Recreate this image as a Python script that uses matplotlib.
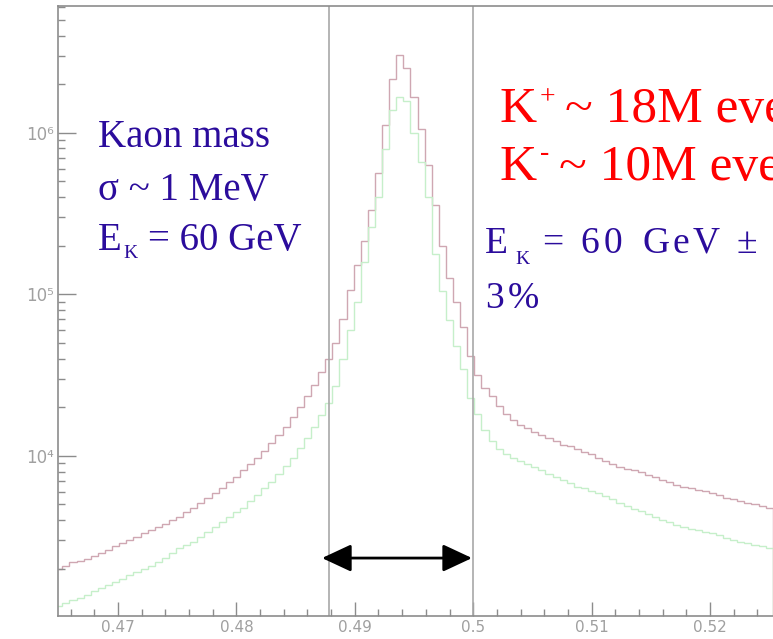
import numpy as np
import matplotlib
matplotlib.use("Agg")
import matplotlib.pyplot as plt
from matplotlib.ticker import MultipleLocator, LogLocator, FixedLocator

# histogram binning (GeV)
bin_start = 0.4647
bin_width = 0.0006

# K+ invariant mass, counts per bin
k_plus = [2000, 2090, 2190, 2240, 2290, 2400, 2510, 2630, 2750, 2880,
          3020, 3160, 3310, 3470, 3630, 3800, 3980, 4170, 4470, 4790,
          5130, 5500, 5890, 6310, 6920, 7410, 8130, 8910, 9770, 10700,
          12000, 13500, 15100, 17400, 20000, 23400, 27500, 33100, 39800, 50100,
          70800, 107000, 151000, 214000, 331000, 562000, 1120000, 2140000, 3020000, 2510000,
          1660000, 1050000, 631000, 355000, 200000, 126000, 89100, 63100, 41700, 31600,
          26300, 23400, 20400, 18200, 16600, 15500, 14800, 14100, 13500, 12900,
          12300, 11700, 11500, 11000, 10500, 10200, 9770, 9330, 8910, 8510,
          8320, 8130, 7940, 7590, 7410, 7080, 6920, 6610, 6460, 6310,
          6170, 6030, 5890, 5750, 5500, 5370, 5250, 5130, 5010, 4900,
          4790]

# K- invariant mass, counts per bin
k_minus = [1170, 1230, 1290, 1320, 1380, 1450, 1510, 1580, 1660, 1740,
           1820, 1910, 2000, 2090, 2190, 2340, 2510, 2690, 2820, 2950,
           3160, 3390, 3630, 3890, 4170, 4470, 4790, 5250, 5750, 6310,
           6920, 7760, 8710, 9770, 11200, 12900, 15100, 17800, 21400, 26900,
           39800, 60300, 89100, 158000, 263000, 398000, 794000, 1380000, 1660000, 1580000,
           1000000, 661000, 398000, 178000, 105000, 69200, 47900, 34700, 22900, 18200,
           14500, 12300, 11000, 10200, 9770, 9330, 8910, 8510, 8130, 7760,
           7410, 7080, 6760, 6460, 6310, 6030, 5890, 5620, 5370, 5130,
           4900, 4680, 4570, 4370, 4170, 3980, 3890, 3720, 3630, 3550,
           3470, 3390, 3310, 3240, 3090, 3020, 2950, 2880, 2820, 2750,
           2690]

cut_lo, cut_hi = 0.4878, 0.5000
xticks = [0.47, 0.48, 0.49, 0.5, 0.51, 0.52]
xticklabels = ["0.47", "0.48", "0.49", "0.5", "0.51", "0.52"]
yticks = [1e4, 1e5, 1e6]
yticklabels = ["10\u2074", "10\u2075", "10\u2076"]

edges = bin_start + bin_width * np.arange(len(k_plus) + 1)

fig = plt.figure(figsize=(7.73, 6.39), dpi=100)
ax = fig.add_axes([58 / 773, 23 / 639, 1 - 58 / 773, 610 / 639])

ax.stairs(k_plus, edges, color='#cfa7b2', lw=1.0)
ax.stairs(k_minus, edges, color='#c6efca', lw=1.0)

ax.axvline(cut_lo, color='#a8a8a8', lw=1.2)
ax.axvline(cut_hi, color='#a8a8a8', lw=1.2)

ax.annotate('', xy=(0.4999, 2330), xytext=(0.48723, 2330),
            arrowprops=dict(arrowstyle='<|-|>,head_length=0.9,head_width=0.42',
                            color='black', lw=2, mutation_scale=20,
                            shrinkA=0, shrinkB=0))

ax.set_yscale('log')
ax.set_xlim(0.464932, 0.525321)
ax.set_ylim(1020, 6.1e6)

ax.xaxis.set_major_locator(FixedLocator(xticks))
ax.set_xticklabels(xticklabels)
ax.xaxis.set_minor_locator(MultipleLocator(0.002))
ax.yaxis.set_major_locator(FixedLocator(yticks))
ax.set_yticklabels(yticklabels)
ax.yaxis.set_minor_locator(LogLocator(base=10, subs=np.arange(2, 10)))
ax.yaxis.set_minor_formatter(plt.NullFormatter())

ax.tick_params(which='both', direction='in', color='#8c8c8c', width=1,
               labelcolor='#a0a0a0', labelsize=11)
ax.tick_params(which='major', length=10, pad=3)
ax.tick_params(which='minor', length=5)
ax.tick_params(axis='y', which='major', length=13, pad=3, labelsize=12)
for lbl in ax.get_xticklabels() + ax.get_yticklabels():
    lbl.set_family('DejaVu Sans')

for side in ['left', 'bottom', 'top']:
    ax.spines[side].set_color('#8c8c8c')
    ax.spines[side].set_linewidth(1.2)
ax.spines['right'].set_visible(False)

blue = '#2b0c9c'
red = '#ff0000'
serif = 'Liberation Serif'


def put(x, y, s, color, size):
    # x, y are pixel positions (baseline) from the top-left corner
    fig.text(x / 773, 1 - y / 639, s, color=color, family=serif,
             fontsize=size, va='baseline')


# left annotation block
put(98, 147, 'Kaon mass', blue, 28)
put(98, 200, '\u03c3 ~ 1 MeV', blue, 28)
put(98, 250, 'E', blue, 28)
put(123, 258, 'K', blue, 14)
put(148, 250, '= 60 GeV', blue, 28)

# event counts
put(500, 122, 'K', red, 37)
put(540, 104, '+', red, 20)
put(565, 122, '~ 18M events', red, 37)
put(500, 180, 'K', red, 37)
put(540, 160, '-', red, 20)
put(559, 180, '~ 10M events', red, 37)

# beam energy
put(485, 253, 'E', blue, 27)
put(515, 264, 'K', blue, 14)
put(542, 253, '=', blue, 27)
put(580, 253, '6', blue, 27)
put(604, 253, '0', blue, 27)
put(642, 253, 'G', blue, 27)
put(673, 253, 'e', blue, 27)
put(693, 253, 'V', blue, 27)
put(736, 253, '\u00b1', blue, 27)
put(485, 308, '3', blue, 27)
put(508, 308, '%', blue, 27)

fig.savefig('out.png', dpi=100)
